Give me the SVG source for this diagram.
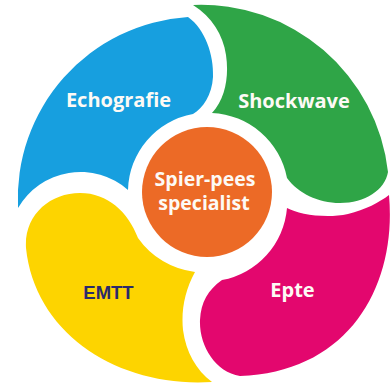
<svg xmlns="http://www.w3.org/2000/svg" width="390" height="385" viewBox="0 0 390 385">
<style>
.lbl{font-family:"Open Sans","Noto Sans","Liberation Sans",sans-serif;font-weight:700;font-size:20px;fill:#fdfaf5;text-anchor:middle}
.mid{font-size:19.5px}
.dark{font-family:"Liberation Sans",Arial,sans-serif;font-weight:700;font-size:18.5px;fill:#2b2a6b;text-anchor:middle}
</style>
<rect width="390" height="385" fill="#ffffff"/>
<g id="echografie">
<path d="M18,208 A182,182 0 0,1 188,17 C205,29 214,55 213,77 C212,95 203,108 193,114 A79,79 0 0,0 128,190 A72,72 0 0,0 18,208 Z" fill="#179fdf"/>
<text class="lbl" x="118.5" y="107">Echografie</text>
</g>
<g id="shockwave">
<path d="M193,5 A188,188 0 0,1 388,172 C385,190 365,203 340,203 C318,203 298,193 287,178 A80,80 0 0,0 212,113 C226,98 229,75 226,55 C223,35 212,17 193,5 Z" fill="#2fa547"/>
<text class="lbl" x="294" y="108">Shockwave</text>
</g>
<g id="epte">
<path d="M389,195 C397,285 350,372 240,376 C215,372 199,345 200,320 C201,302 208,290 222,280 A80,80 0 0,0 287,208 C298,214 325,219 348,214 C365,210 380,202 389,195 Z" fill="#e3076e"/>
<text class="lbl" x="292.5" y="297">Epte</text>
</g>
<g id="emtt">
<path d="M26,248 C24,215 50,193 80,193 C108,193 128,212 138,238 A81,81 0 0,0 195,272 C185,290 181,310 183,330 C186,352 196,370 212,382 C120,388 35,335 26,248 Z" fill="#fdd400"/>
<text class="dark" x="108.5" y="299">EMTT</text>
</g>
<g id="center">
<circle cx="207" cy="192" r="65" fill="#ec6a26"/>
<text class="lbl mid" x="205" y="185.5">Spier-pees</text>
<text class="lbl mid" x="204" y="210">specialist</text>
</g>
<g id="connectors"></g>
</svg>
